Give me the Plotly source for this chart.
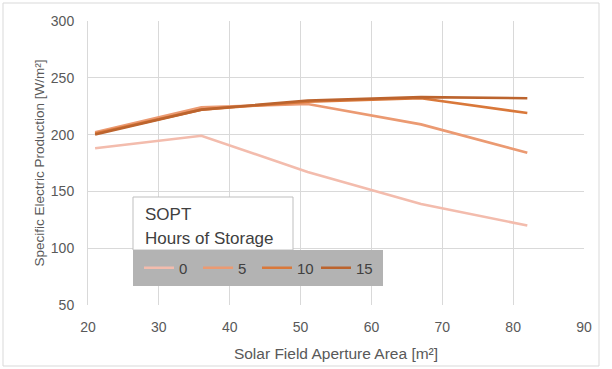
import plotly.graph_objects as go

area = [21, 36, 51, 67, 82]
hours = ["0", "5", "10", "15"]
s0 = [188, 199, 167, 139, 120]
s5 = [202, 224, 227, 209, 184]
s10 = [201, 222, 229, 232, 219]
s15 = [200, 222, 230, 233, 232]
series = [s0, s5, s10, s15]
colors = ["#F3BCAD", "#EB9A72", "#D9783A", "#BC642E"]
x_ticks = [20, 30, 40, 50, 60, 70, 80, 90]
y_ticks = [50, 100, 150, 200, 250, 300]

font = "Liberation Sans"
fig = go.Figure()
for name, vals, c in zip(hours, series, colors):
    fig.add_trace(go.Scatter(x=area, y=vals, mode="lines", name=name,
                             line=dict(color=c, width=2.6)))

W, H = 612, 369
L, R, T, B = 88, 28, 21, 64
pw, ph = W - L - R, H - T - B

def px(x):
    return (x - L) / pw

def py(y):
    return (H - B - y) / ph

shapes = [
    dict(type="rect", xref="paper", yref="paper", x0=px(3), x1=px(599), y0=py(366), y1=py(3),
         line=dict(color="#d9d9d9", width=1), fillcolor="rgba(0,0,0,0)", layer="below"),
    dict(type="rect", xref="paper", yref="paper", x0=px(133), x1=px(293), y0=py(250), y1=py(197),
         line=dict(color="#bfbfbf", width=1), fillcolor="white", layer="above"),
    dict(type="rect", xref="paper", yref="paper", x0=px(133), x1=px(383), y0=py(286), y1=py(250),
         line=dict(width=0), fillcolor="#b3b3b3", layer="above"),
]
annotations = [
    dict(text="SOPT", xref="paper", yref="paper", x=px(143), y=py(214), xanchor="left",
         yanchor="middle", showarrow=False, font=dict(family=font, size=17, color="#404040")),
    dict(text="Hours of Storage", xref="paper", yref="paper", x=px(143), y=py(238), xanchor="left",
         yanchor="middle", showarrow=False, font=dict(family=font, size=17, color="#404040")),
]

fig.update_layout(
    width=W, height=H,
    margin=dict(l=L, r=R, t=T, b=B, autoexpand=False),
    paper_bgcolor="white", plot_bgcolor="white",
    font=dict(family=font, size=14, color="#595959"),
    shapes=shapes, annotations=annotations,
    xaxis=dict(range=[20, 90], tickvals=x_ticks, showgrid=True, gridcolor="#d9d9d9",
               zeroline=False, showline=False, automargin=False,
               ticks="outside", ticklen=9, tickcolor="rgba(0,0,0,0)", tickfont=dict(size=14),
               title=dict(text="Solar Field Aperture Area [m²]", font=dict(size=15.5), standoff=14)),
    yaxis=dict(range=[50, 300], tickvals=y_ticks, showgrid=True, gridcolor="#d9d9d9",
               zeroline=False, showline=True, linecolor="#d9d9d9", automargin=False,
               ticks="outside", ticklen=10, tickcolor="rgba(0,0,0,0)", tickfont=dict(size=14),
               title=dict(text="Specific Electric Production [W/m²]", font=dict(size=13.5), standoff=3)),
    legend=dict(orientation="h", x=px(139), y=py(268), xanchor="left", yanchor="middle",
                bgcolor="rgba(0,0,0,0)", font=dict(size=15, color="#404040"),
                entrywidth=14, entrywidthmode="pixels"),
)
fig.write_html("out.html", config={"displayModeBar": False},
               post_script="document.body.style.margin='0';")
